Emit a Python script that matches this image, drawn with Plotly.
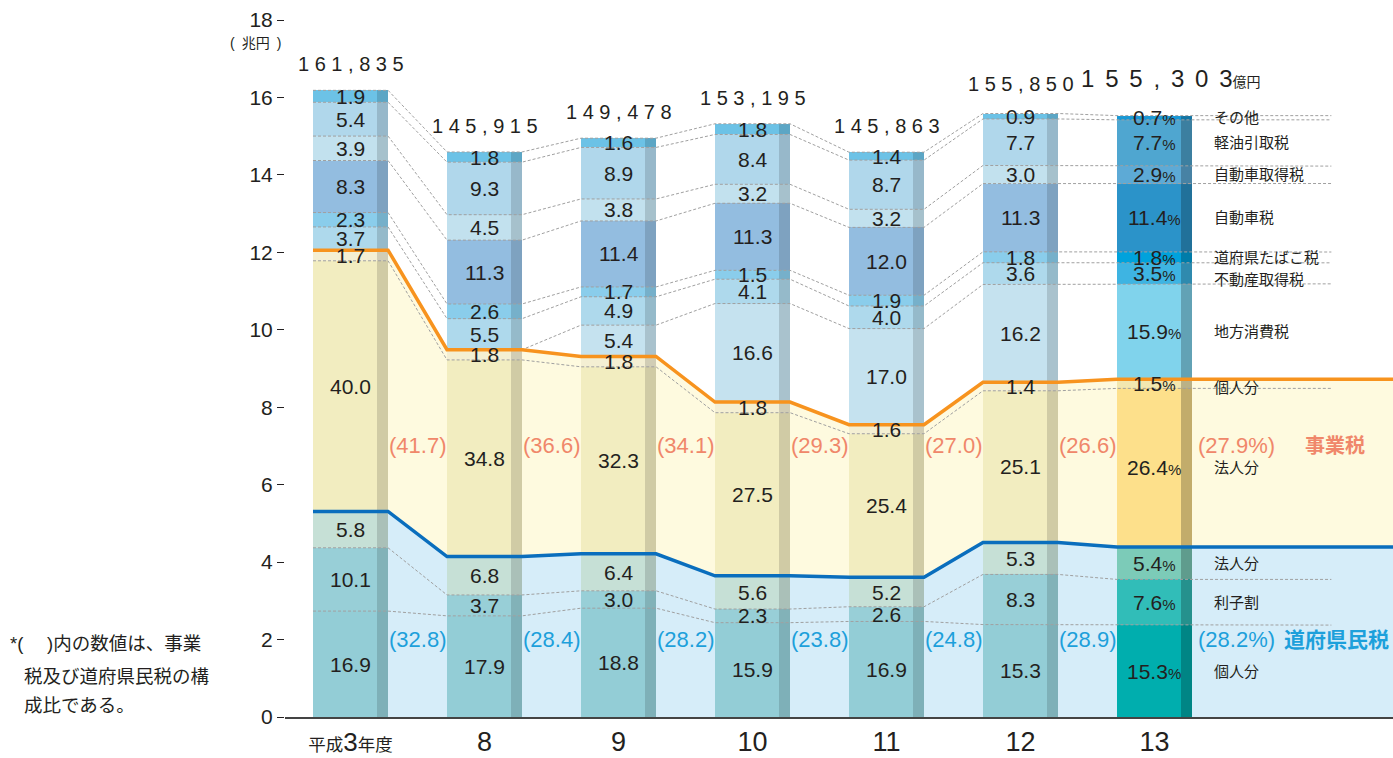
import plotly.graph_objects as go

# ======================== データ（構成比 %、年度ごとの合計 億円） ========================
SMALL = "<span style='font-size:17.5px'>%s</span>"
years = [SMALL % "平成" + "<span style='font-size:26px'>3</span>" + SMALL % "年度",
         "8", "9", "10", "11", "12", "13"]
totals = [161835, 145915, 149478, 153195, 145863, 155850, 155303]

kenmin_kojin    = [16.9, 17.9, 18.8, 15.9, 16.9, 15.3, 15.3]   # 道府県民税 個人分
rishiwari       = [10.1, 3.7, 3.0, 2.3, 2.6, 8.3, 7.6]         # 利子割
kenmin_hojin    = [5.8, 6.8, 6.4, 5.6, 5.2, 5.3, 5.4]          # 道府県民税 法人分
jigyo_hojin     = [40.0, 34.8, 32.3, 27.5, 25.4, 25.1, 26.4]   # 事業税 法人分
jigyo_kojin     = [1.7, 1.8, 1.8, 1.8, 1.6, 1.4, 1.5]          # 事業税 個人分
chiho_shohi     = [0, 0, 5.4, 16.6, 17.0, 16.2, 15.9]          # 地方消費税
fudosan         = [3.7, 5.5, 4.9, 4.1, 4.0, 3.6, 3.5]          # 不動産取得税
tabako          = [2.3, 2.6, 1.7, 1.5, 1.9, 1.8, 1.8]          # 道府県たばこ税
jidosha         = [8.3, 11.3, 11.4, 11.3, 12.0, 11.3, 11.4]    # 自動車税
jidosha_shutoku = [3.9, 4.5, 3.8, 3.2, 3.2, 3.0, 2.9]          # 自動車取得税
keiyu           = [5.4, 9.3, 8.9, 8.4, 8.7, 7.7, 7.7]          # 軽油引取税
sonota          = [1.9, 1.8, 1.6, 1.8, 1.4, 0.9, 0.7]          # その他

jigyo_share  = [41.7, 36.6, 34.1, 29.3, 27.0, 26.6, 27.9]
kenmin_share = [32.8, 28.4, 28.2, 23.8, 24.8, 28.9, 28.2]

cat_names = ["個人分", "利子割", "法人分", "法人分", "個人分", "地方消費税", "不動産取得税",
             "道府県たばこ税", "自動車税", "自動車取得税", "軽油引取税", "その他"]
cat_values = [kenmin_kojin, rishiwari, kenmin_hojin, jigyo_hojin, jigyo_kojin, chiho_shohi,
              fudosan, tabako, jidosha, jidosha_shutoku, keiyu, sonota]

# 色（平成3〜12年度 / 13年度）
pale_colors = ["#93CDD6", "#98CFD7", "#C6E0D6", "#F2EDC0", "#F4EFD3", "#C5E2EF",
               "#AED9EC", "#8ACDEB", "#93BDE0", "#C2E1EE", "#B0D7EB", "#6CC2E6"]
vivid_colors = ["#00AEAE", "#31BDB8", "#7CCBB8", "#FDE08B", "#F2E7B0", "#80D3EC",
                "#3EB4E2", "#00A2DC", "#2B93C9", "#5DAAD6", "#4FA6D0", "#1898D5"]

FONT = "Liberation Sans, Arial, Noto Sans CJK JP, sans-serif"
TXT = "#231F20"
ORANGE = "#F7931E"
BLUE = "#0A6EBD"
SALMON = "#F0876A"
SKY = "#1DA0DB"

# 座標まわり
n = len(totals)
HW = 0.28          # 棒全体の半幅
FACE_W = 0.478
STRIP_W = 0.082
X0, X1 = -0.489, 7.78
X_EXT = 7.32       # 13年度の点線の右端
face_x = [i - HW + FACE_W / 2 for i in range(n)]
strip_x = [i + HW - STRIP_W / 2 for i in range(n)]


def darken(hexc, f):
    r, g, b = int(hexc[1:3], 16), int(hexc[3:5], 16), int(hexc[5:7], 16)
    return "#%02X%02X%02X" % (int(r * f), int(g * f), int(b * f))


# プロット外の文字はpaper座標で置く
def px2paper(px):
    return (px - 285) / 1108.0


def py2paper(py):
    return (717 - py) / 697.0


# 兆円に換算した各セグメントの高さと累積
seg = []
for k in range(len(cat_values)):
    row = []
    for i in range(n):
        s = sum(v[i] for v in cat_values)
        row.append(cat_values[k][i] / s * totals[i] / 10000)
    seg.append(row)
cum = []
acc = [0.0] * n
for k in range(len(seg)):
    acc = [acc[i] + seg[k][i] for i in range(n)]
    cum.append(acc[:])


def boundary(k, x_end):
    xs, ys = [], []
    for i in range(n):
        xs += [i - HW, i + HW]
        ys += [cum[k][i], cum[k][i]]
    xs.append(x_end)
    ys.append(cum[k][-1])
    return xs, ys


fig = go.Figure()

# ======================== 背景の塗り（下のサブプロット） ========================
bx, by = boundary(2, X1)
ox, oy = boundary(4, X1)
fig.add_trace(go.Scatter(x=bx, y=by, mode="lines", line=dict(width=0),
                         fill="tozeroy", fillcolor="#D6EDF9", hoverinfo="skip"))
fig.add_trace(go.Scatter(x=ox, y=oy, mode="lines", line=dict(width=0),
                         fill="tonexty", fillcolor="#FEFADF", hoverinfo="skip"))

# ======================== 棒（上のサブプロット） ========================
for k in range(len(seg)):
    face_cols = [pale_colors[k]] * (n - 1) + [vivid_colors[k]]
    strip_cols = [darken(pale_colors[k], 0.86)] * (n - 1) + [darken(vivid_colors[k], 0.77)]
    fig.add_trace(go.Bar(x=face_x, y=seg[k], width=FACE_W, marker=dict(color=face_cols, line_width=0),
                         xaxis="x2", yaxis="y2", name=cat_names[k], hoverinfo="skip"))
    fig.add_trace(go.Bar(x=strip_x, y=seg[k], width=STRIP_W, marker=dict(color=strip_cols, line_width=0),
                         xaxis="x2", yaxis="y2", showlegend=False, hoverinfo="skip"))

# 区切りの点線
for k in range(len(seg)):
    xs, ys = boundary(k, X_EXT)
    fig.add_trace(go.Scatter(x=xs, y=ys, mode="lines", xaxis="x2", yaxis="y2",
                             line=dict(color="#A0A0A0", width=1, dash="3px,2px"), hoverinfo="skip"))

# 事業税・道府県民税の境界線
fig.add_trace(go.Scatter(x=ox, y=oy, mode="lines", xaxis="x2", yaxis="y2",
                         line=dict(color=ORANGE, width=3.5), hoverinfo="skip"))
fig.add_trace(go.Scatter(x=bx, y=by, mode="lines", xaxis="x2", yaxis="y2",
                         line=dict(color=BLUE, width=3.5), hoverinfo="skip"))

# ======================== 注記 ========================
ann = []
for k in range(len(seg)):
    for i in range(n):
        if cat_values[k][i] <= 0:
            continue
        txt = "%.1f" % cat_values[k][i]
        if i == n - 1:
            txt += "<span style='font-size:15px'>%</span>"
        ann.append(dict(x=i, y=cum[k][i] - seg[k][i] / 2, text=txt, showarrow=False,
                        font=dict(size=21, color=TXT)))

# 右側の項目名
label_shift = [0, 0, 0, 0, -4, 0, -6, 0, 0, 0, 0, 0]
for k in range(len(seg)):
    ann.append(dict(x=6.43, y=cum[k][-1] - seg[k][-1] / 2, text=cat_names[k], showarrow=False,
                    xanchor="left", yshift=label_shift[k], font=dict(size=15, color=TXT)))

# 合計（億円）
tot_shift = [13, 13, 13, 13, 13, 17, 22]
for i in range(n):
    s = "{:,}".format(totals[i])
    if i == n - 1:
        txt = "\u2009\u2005".join(s) + "<span style='font-size:14px'>億円</span>"
        ann.append(dict(x=i, y=totals[i] / 10000, text=txt, showarrow=False, yanchor="bottom",
                        xshift=17, yshift=tot_shift[i], font=dict(size=24, color=TXT)))
    else:
        ann.append(dict(x=i, y=totals[i] / 10000, text=" ".join(s), showarrow=False, yanchor="bottom",
                        yshift=tot_shift[i], font=dict(size=20, color=TXT)))

# 構成比（かっこ内）
for i in range(n):
    if i == n - 1:
        ann.append(dict(x=6.31, y=7.0, text="(%.1f%%)" % jigyo_share[i], xanchor="left",
                        showarrow=False, font=dict(size=22, color=SALMON)))
        ann.append(dict(x=6.31, y=2.0, text="(%.1f%%)" % kenmin_share[i], xanchor="left",
                        showarrow=False, font=dict(size=22, color=SKY)))
    else:
        ann.append(dict(x=i + 0.5, y=7.0, text="(%.1f)" % jigyo_share[i],
                        showarrow=False, font=dict(size=22, color=SALMON)))
        ann.append(dict(x=i + 0.5, y=2.0, text="(%.1f)" % kenmin_share[i],
                        showarrow=False, font=dict(size=22, color=SKY)))

ann.append(dict(x=7.35, y=7.0, text="<b>事業税</b>", showarrow=False, font=dict(size=20, color=SALMON)))
ann.append(dict(x=7.36, y=2.0, text="<b>道府県民税</b>", showarrow=False, font=dict(size=21, color=SKY)))

for a in ann:
    a["xref"] = "x2"
    a["yref"] = "y2"

# 単位と脚注
ann.append(dict(x=px2paper(255), y=py2paper(43), xref="paper", yref="paper",
                text="(\u2002兆円\u2002)", xanchor="center", yanchor="middle",
                showarrow=False, font=dict(size=14, color=TXT)))
foot = [(8, 643, "*(\u3000 )内の数値は、事業"), (22, 676, "税及び道府県民税の構"), (22, 705, "成比である。")]
for px, py, t in foot:
    ann.append(dict(x=px2paper(px), y=py2paper(py), xref="paper", yref="paper", text=t,
                    xanchor="left", yanchor="middle", showarrow=False, font=dict(size=18.5, color=TXT)))

fig.update_layout(
    width=1393,
    height=758,
    margin=dict(l=285, r=0, t=20, b=41),
    plot_bgcolor="white",
    paper_bgcolor="white",
    barmode="stack",
    bargap=0,
    showlegend=False,
    font=dict(family=FONT, color=TXT),
    annotations=ann,
    xaxis=dict(range=[X0, X1], tickvals=list(range(n)), ticktext=years, showgrid=False,
               zeroline=False, showline=True, linecolor="#444444", linewidth=1.5, ticks="",
               tickfont=dict(size=27, color=TXT), layer="above traces"),
    yaxis=dict(range=[0, 18], tickvals=list(range(0, 19, 2)), showgrid=False, zeroline=False,
               showline=False, ticks="outside", ticklen=7, tickcolor=TXT, tickwidth=1,
               tickfont=dict(size=21, color=TXT)),
    xaxis2=dict(range=[X0, X1], overlaying="x", visible=False),
    yaxis2=dict(range=[0, 18], overlaying="y", visible=False),
)

fig.write_html("out.html", config={"displayModeBar": False},
               post_script="document.body.style.margin='0';")
